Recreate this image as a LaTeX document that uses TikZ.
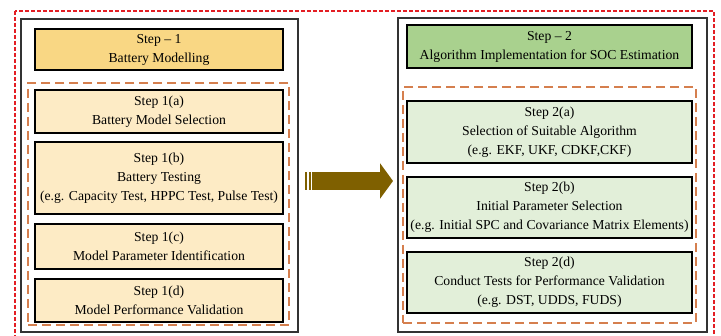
\documentclass[tikz,border=0pt]{standalone}
\usepackage{fontspec}
\setmainfont{Liberation Serif}
\usetikzlibrary{arrows.meta,shadows}
\definecolor{hdrA}{HTML}{F9D784}
\definecolor{subA}{HTML}{FDEBC5}
\definecolor{hdrB}{HTML}{A9D18E}
\definecolor{subB}{HTML}{E2EFD9}
\definecolor{outerred}{HTML}{E31E24}
\definecolor{dashor}{HTML}{D57F4E}
\definecolor{arrowbrown}{HTML}{7F6000}
\definecolor{framegray}{HTML}{333333}
\begin{document}
\begin{tikzpicture}[x=1pt,y=-1pt,
  stepbox/.style={draw=black, line width=1.6pt, align=center, inner sep=0pt,
    font=\fontsize{13.7}{19}\selectfont,
    drop shadow={shadow xshift=1.2pt, shadow yshift=-1.2pt, opacity=0.25}},
  hdrone/.style={stepbox, fill=hdrA},
  subone/.style={stepbox, fill=subA},
  hdrtwo/.style={stepbox, fill=hdrB},
  subtwo/.style={stepbox, fill=subB},
  framebox/.style={draw=framegray, line width=1.3pt, inner sep=0pt},
  groupbox/.style={draw=dashor, line width=1.5pt, dash pattern=on 9pt off 5pt, inner sep=0pt},
  outerbox/.style={draw=outerred, line width=2.4pt, dash pattern=on 4pt off 2pt},
  bigarrow/.style={draw=arrowbrown, line width=18pt, -{Triangle[width=35pt,length=13pt]}},
  arrowbar/.style={fill=arrowbrown, inner sep=0pt, minimum width=2pt, minimum height=18pt}
]
\useasboundingbox (0,0) rectangle (721,336);
\fill[white] (0,0) rectangle (721,336);
\begin{scope}
  \clip (0,0) rectangle (721,336);
  \draw[outerbox] (15,11) rectangle (714,360);
\end{scope}

% left column
\node[framebox, minimum width=277pt, minimum height=313pt] (L) at (159.5,175.5) {};
\node[groupbox, minimum width=261pt, minimum height=242pt] (D1) at (158.5,204) {};
\node[hdrone, minimum width=248pt, minimum height=41pt] (h1) at (159,49.5) {Step – 1\\Battery Modelling};
\node[subone, minimum width=248pt, minimum height=43pt] (s1a) at (159,111.5) {Step 1(a)\\Battery Model Selection};
\node[subone, minimum width=248pt, minimum height=72pt] (s1b) at (159,178) {Step 1(b)\\Battery Testing\\(e.g. Capacity Test, HPPC Test, Pulse Test)};
\node[subone, minimum width=248pt, minimum height=45pt] (s1c) at (159,246.5) {Step 1(c)\\Model Parameter Identification};
\node[subone, minimum width=248pt, minimum height=43pt] (s1d) at (159,300.5) {Step 1(d)\\Model Performance Validation};

% right column
\node[framebox, minimum width=309pt, minimum height=314pt] (R) at (552.5,175) {};
\node[groupbox, minimum width=293pt, minimum height=236pt] (D2) at (549.5,205) {};
\node[hdrtwo, minimum width=285pt, minimum height=43pt] (h2) at (549.5,46.5) {Step – 2\\Algorithm Implementation for SOC Estimation};
\node[subtwo, minimum width=285pt, minimum height=62pt] (s2a) at (549.5,132) {Step 2(a)\\Selection of Suitable Algorithm\\(e.g. EKF, UKF, CDKF,CKF)};
\node[subtwo, minimum width=285pt, minimum height=61pt] (s2b) at (549.5,207.5) {Step 2(b)\\Initial Parameter Selection\\(e.g. Initial SPC and Covariance Matrix Elements)};
\node[subtwo, minimum width=285pt, minimum height=61pt] (s2d) at (549.5,282.5) {Step 2(d)\\Conduct Tests for Performance Validation\\(e.g. DST, UDDS, FUDS)};

% arrow
\node[arrowbar] (b1) at (306,181) {};
\node[arrowbar] (b2) at (309.8,181) {};
\coordinate (as) at (312,181);
\coordinate (ae) at (393,181);
\draw[bigarrow] (as) -- (ae);
\end{tikzpicture}
\end{document}
